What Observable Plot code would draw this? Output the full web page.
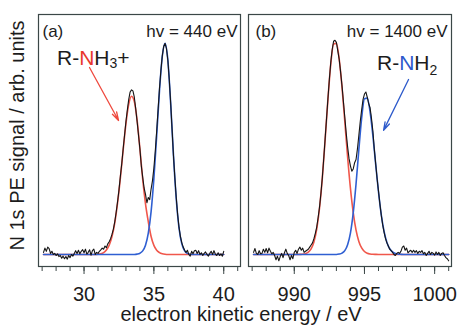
<!DOCTYPE html>
<html><head><meta charset="utf-8">
<script src="https://cdn.jsdelivr.net/npm/d3@7"></script>
<script src="https://cdn.jsdelivr.net/npm/@observablehq/plot@0.6"></script>
<style>
html,body{margin:0;padding:0;background:#fff;}
#wrap{position:relative;width:459px;height:330px;overflow:hidden;}
#wrap > svg{position:absolute;top:0;}
</style></head><body><div id="wrap"></div>
<script>
// ---------- panel (a): hv = 440 eV ----------
const energyA = [
27.1,27.2,27.3,27.4,27.5,27.6,27.7,27.8,27.9,28.0,
28.1,28.2,28.3,28.4,28.5,28.6,28.7,28.8,28.9,29.0,
29.1,29.2,29.3,29.4,29.5,29.6,29.7,29.8,29.9,30.0,
30.1,30.2,30.3,30.4,30.5,30.6,30.7,30.8,30.9,31.0,
31.1,31.2,31.3,31.4,31.5,31.6,31.7,31.8,31.9,32.0,
32.1,32.2,32.3,32.4,32.5,32.6,32.7,32.8,32.9,33.0,
33.1,33.2,33.3,33.4,33.5,33.6,33.7,33.8,33.9,34.0,
34.1,34.2,34.3,34.4,34.5,34.6,34.7,34.8,34.9,35.0,
35.1,35.2,35.3,35.4,35.5,35.6,35.7,35.8,35.9,36.0,
36.1,36.2,36.3,36.4,36.5,36.6,36.7,36.8,36.9,37.0,
37.1,37.2,37.3,37.4,37.5,37.6,37.7,37.8,37.9,38.0,
38.1,38.2,38.3,38.4,38.5,38.6,38.7,38.8,38.9,39.0,
39.1,39.2,39.3,39.4,39.5,39.6,39.7,39.8,39.9,40.0];
const signalA = [
1.0,3.0,1.5,3.5,2.8,0.5,1.5,0.0,0.5,-0.5,
0.3,-1.0,-0.5,-1.8,-0.8,-2.0,-1.0,-2.2,-0.5,-1.5,
0.0,-0.8,0.5,1.8,0.5,2.0,0.3,1.5,2.3,0.8,
2.5,0.2,1.0,2.2,-0.3,1.8,2.5,0.0,1.0,0.5,
1.5,2.2,3.0,2.5,4.0,3.2,5.0,6.0,7.5,9.5,
12.0,15.5,20.0,25.0,30.5,37.0,43.0,50.0,56.5,63.0,
68.5,73.5,77.0,78.0,77.5,74.5,69.0,63.0,56.5,50.0,
42.0,36.5,31.5,28.5,24.5,27.0,26.0,31.0,35.0,41.0,
49.0,58.5,68.5,78.5,87.0,94.0,98.5,100.0,97.5,92.0,
83.0,72.0,59.5,47.0,36.5,27.0,19.0,12.8,8.5,5.5,
3.5,2.0,1.0,2.0,0.0,-0.8,1.5,0.3,1.8,2.0,
0.5,1.8,0.0,0.8,-0.5,0.5,1.2,0.0,-0.8,0.5,
1.5,0.0,1.8,0.2,-0.5,0.8,-0.5,0.3,-0.8,1.5];
const fitEnergyA = [27.1,
30.6,30.8,31.0,31.2,31.4,31.6,31.8,32.0,32.2,32.4,32.6,32.8,33.0,33.2,33.4,33.6,33.8,34.0,34.2,34.4,
34.6,34.8,35.0,35.2,35.4,35.6,35.8,36.0,36.2,36.4,36.6,36.8,37.0,37.2,37.4,37.6,37.8,38.0,
40.0];
const fitRedA = [0,
0,0.02,0.13,0.36,0.9,2.1,4.4,8.5,15.0,24.4,36.2,49.5,62.0,71.2,75.0,72.4,63.5,50.0,35.5,24.0,
15.5,8.5,4.3,2.0,0.9,0.35,0.1,0,0,0,0,0,0,0,0,0,0,0,
0];
const fitBlueA = [0,
0,0,0,0,0,0,0,0,0,0,0,0,0,0,0,0,0.15,0.57,1.7,4.4,
10.1,20.3,36.0,56.3,77.5,93.8,100,92.0,71.7,47.2,26.4,12.5,5.0,1.7,0.5,0.1,0,0,
0];
const majorTicksA = [30, 35, 40];
const minorTicksA = [27,28,29,30,31,32,33,34,35,36,37,38,39,40,41];

// ---------- panel (b): hv = 1400 eV ----------
const energyB = [
987.1,987.2,987.3,987.4,987.5,987.6,987.7,987.8,987.9,988.0,
988.1,988.2,988.3,988.4,988.5,988.6,988.7,988.8,988.9,989.0,
989.1,989.2,989.3,989.4,989.5,989.6,989.7,989.8,989.9,990.0,
990.1,990.2,990.3,990.4,990.5,990.6,990.7,990.8,990.9,991.0,
991.1,991.2,991.3,991.4,991.5,991.6,991.7,991.8,991.9,992.0,
992.1,992.2,992.3,992.4,992.5,992.6,992.7,992.8,992.9,993.0,
993.1,993.2,993.3,993.4,993.5,993.6,993.7,993.8,993.9,994.0,
994.1,994.2,994.3,994.4,994.5,994.6,994.7,994.8,994.9,995.0,
995.1,995.2,995.3,995.4,995.5,995.6,995.7,995.8,995.9,996.0,
996.1,996.2,996.3,996.4,996.5,996.6,996.7,996.8,996.9,997.0,
997.1,997.2,997.3,997.4,997.5,997.6,997.7,997.8,997.9,998.0,
998.1,998.2,998.3,998.4,998.5,998.6,998.7,998.8,998.9,999.0,
999.1,999.2,999.3,999.4,999.5,999.6,999.7,999.8,999.9,1000.0,
1000.1,1000.2,1000.3,1000.4,1000.5,1000.6,1000.7,1000.8,1000.9,1001.0];
const signalB = [
1.0,2.8,0.5,0.0,1.8,0.3,0.5,2.5,1.0,2.8,
0.8,3.0,1.5,0.3,1.0,-0.5,-2.5,-0.8,-3.0,-1.0,
0.5,-1.5,0.8,2.5,0.5,-0.5,-2.5,-0.5,-2.0,1.0,
2.0,0.5,2.5,3.5,2.0,3.0,1.0,1.5,2.0,2.5,
3.5,4.5,5.5,7.5,10.0,13.0,17.5,22.5,29.0,36.5,
45.5,55.0,64.5,74.0,83.0,91.0,97.0,101.0,101.5,100.5,
96.5,92.5,86.5,80.0,72.5,65.0,57.5,51.0,45.5,42.0,
39.5,40.5,43.5,45.0,50.0,56.5,63.0,68.5,73.5,76.0,
77.0,74.5,71.5,69.5,64.5,58.5,50.0,43.0,36.0,30.0,
24.0,18.5,14.0,10.5,7.5,5.5,4.0,2.5,1.8,1.0,
0.0,-0.5,0.5,1.0,0.5,1.5,3.5,4.0,2.0,3.0,
0.8,1.5,2.0,1.0,2.0,1.0,1.8,0.5,1.5,1.0,
1.8,0.3,1.0,-0.5,0.5,1.5,0.0,1.0,0.5,-0.3,
1.2,0.0,1.0,-0.5,0.5,0.8,-0.5,-1.5,-2.0,-3.0];
const fitEnergyB = [987.1,
990.2,990.4,990.6,990.8,991.0,991.2,991.4,991.6,991.8,992.0,992.2,992.4,992.6,992.8,993.0,993.2,993.4,993.6,993.8,994.0,
994.2,994.4,994.6,994.8,995.0,995.2,995.4,995.6,995.8,996.0,996.2,996.4,996.6,996.8,997.0,997.2,997.4,997.6,997.8,998.0,
1001.0];
const fitRedB = [0,
0,0.04,0.13,0.39,1.07,2.65,5.9,12.0,22.0,36.4,54.5,73.7,90.2,99.7,100.0,92.6,79.4,63.0,46.2,31.4,
19.8,11.5,6.2,3.1,1.4,0.6,0.24,0.08,0.03,0,0,0,0,0,0,0,0,0,0,0,
0];
const fitBlueB = [0,
0,0,0,0,0,0,0,0,0,0,0,0,0,0,0,0.19,0.63,1.8,4.6,10.1,
19.7,33.4,49.6,64.6,73.8,74.1,67.6,56.3,42.7,29.6,18.7,10.8,5.7,2.7,1.2,0.47,0.17,0.06,0,0,
0];
const majorTicksB = [990, 995, 1000];
const minorTicksB = [987,988,989,990,991,992,993,994,995,996,997,998,999,1000,1001];

// ---------- texts & annotation anchors (data units) ----------
const panelLabels = ["(a)", "(b)"];
const energyLabels = ["hv = 440 eV", "hv = 1400 eV"];
const xTitle = "electron kinetic energy / eV";
const yTitle = "N 1s PE signal / arb. units";
const arrowA = [{x1: 30.39, y1: 88.6, x2: 32.47, y2: 63.5}];
const arrowB = [{x1: 998.14, y1: 82.9, x2: 996.36, y2: 58.8}];
const labelA = {x: 28.10, y: 89.6};
const labelB = {x: 995.93, y: 87.2};

const yDomain = [-5.7, 113.7];
const FONT = '"Liberation Sans", Arial, Helvetica, sans-serif';
const FRAME = "#3b4747", RED = "#f0574b", BLUE = "#2f5fd2", BLACK = "#151515", TXT = "#1c1c1c";

function panel(o) {
  const plot = Plot.plot({
    width: o.width, height: 305,
    marginLeft: o.ml, marginRight: o.mr, marginTop: 14, marginBottom: 39,
    style: {fontFamily: FONT, background: "transparent", overflow: "visible"},
    x: {domain: o.xdom},
    y: {domain: yDomain, axis: null},
    marks: [
      Plot.line(o.fitX, {x: o.fitX, y: o.red, stroke: RED, strokeWidth: 1.6, curve: "monotone-x"}),
      Plot.line(o.fitX, {x: o.fitX, y: o.blue, stroke: BLUE, strokeWidth: 1.6, curve: "monotone-x"}),
      Plot.line(o.x, {x: o.x, y: o.y, stroke: BLACK, strokeWidth: 1.1}),
      Plot.arrow(o.arrow, {x1: "x1", y1: "y1", x2: "x2", y2: "y2", stroke: o.arrowColor, strokeWidth: 1.3, headLength: 10, headAngle: 32}),
      Plot.frame({stroke: FRAME, strokeWidth: 1.2}),
      Plot.axisX(o.minor, {tickSize: 5, tickFormat: () => "", stroke: FRAME, label: null}),
      Plot.axisX(o.major, {tickSize: 8, tickPadding: 12, fontSize: 20, tickFormat: d => String(d), stroke: FRAME, fill: TXT, label: null}),
      Plot.text([o.panel], {text: d => d, frameAnchor: "top-left", dx: o.pdx, dy: 10, fontSize: 17, fill: TXT}),
      Plot.text([o.energy], {text: d => d, frameAnchor: "top-right", dx: o.edx, dy: 10, fontSize: 17, fill: TXT})
    ]
  });
  const sx = plot.scale("x"), sy = plot.scale("y");
  const t = d3.select(plot).append("text")
    .attr("x", sx.apply(o.lab.x)).attr("y", sy.apply(o.lab.y))
    .attr("text-anchor", "start")
    .attr("font-size", 21).attr("fill", TXT).attr("font-family", FONT);
  t.append("tspan").text("R-");
  t.append("tspan").attr("fill", o.nColor).text("N");
  t.append("tspan").text("H");
  t.append("tspan").attr("font-size", 14).attr("dy", o.subDy).text(o.sub);
  if (o.tail) t.append("tspan").attr("dy", -o.subDy).text(o.tail);
  plot.style.position = "absolute";
  plot.style.top = "0px";
  plot.style.left = o.left + "px";
  return plot;
}

const wrap = document.getElementById("wrap");
wrap.appendChild(panel({
  width: 244, ml: 38, mr: 4, left: 0, xdom: [26.74, 41.2],
  x: energyA, y: signalA, fitX: fitEnergyA, red: fitRedA, blue: fitBlueA,
  major: majorTicksA, minor: minorTicksA, panel: panelLabels[0], energy: energyLabels[0],
  pdx: 4, edx: -3, arrow: arrowA, arrowColor: "#ef4a3f", lab: labelA,
  nColor: "#e8382d", sub: "3", tail: "+", subDy: 3
}));
wrap.appendChild(panel({
  width: 215, ml: 4, mr: 8, left: 244, xdom: [986.74, 1001.2],
  x: energyB, y: signalB, fitX: fitEnergyB, red: fitRedB, blue: fitBlueB,
  major: majorTicksB, minor: minorTicksB, panel: panelLabels[1], energy: energyLabels[1],
  pdx: 7, edx: -4, arrow: arrowB, arrowColor: "#2d5acb", lab: labelB,
  nColor: "#2d58cc", sub: "2", tail: null, subDy: 5
}));

const titles = d3.create("svg").attr("width", 459).attr("height", 330)
  .style("position", "absolute").style("left", "0px").style("top", "0px")
  .style("pointer-events", "none").attr("font-family", FONT);
titles.append("text").attr("x", 241).attr("y", 321).attr("text-anchor", "middle")
  .attr("font-size", 20).attr("fill", TXT).text(xTitle);
titles.append("text").attr("transform", "translate(23.5,135.5) rotate(-90)").attr("text-anchor", "middle")
  .attr("font-size", 20).attr("fill", TXT).text(yTitle);
wrap.appendChild(titles.node());
</script></body></html>
